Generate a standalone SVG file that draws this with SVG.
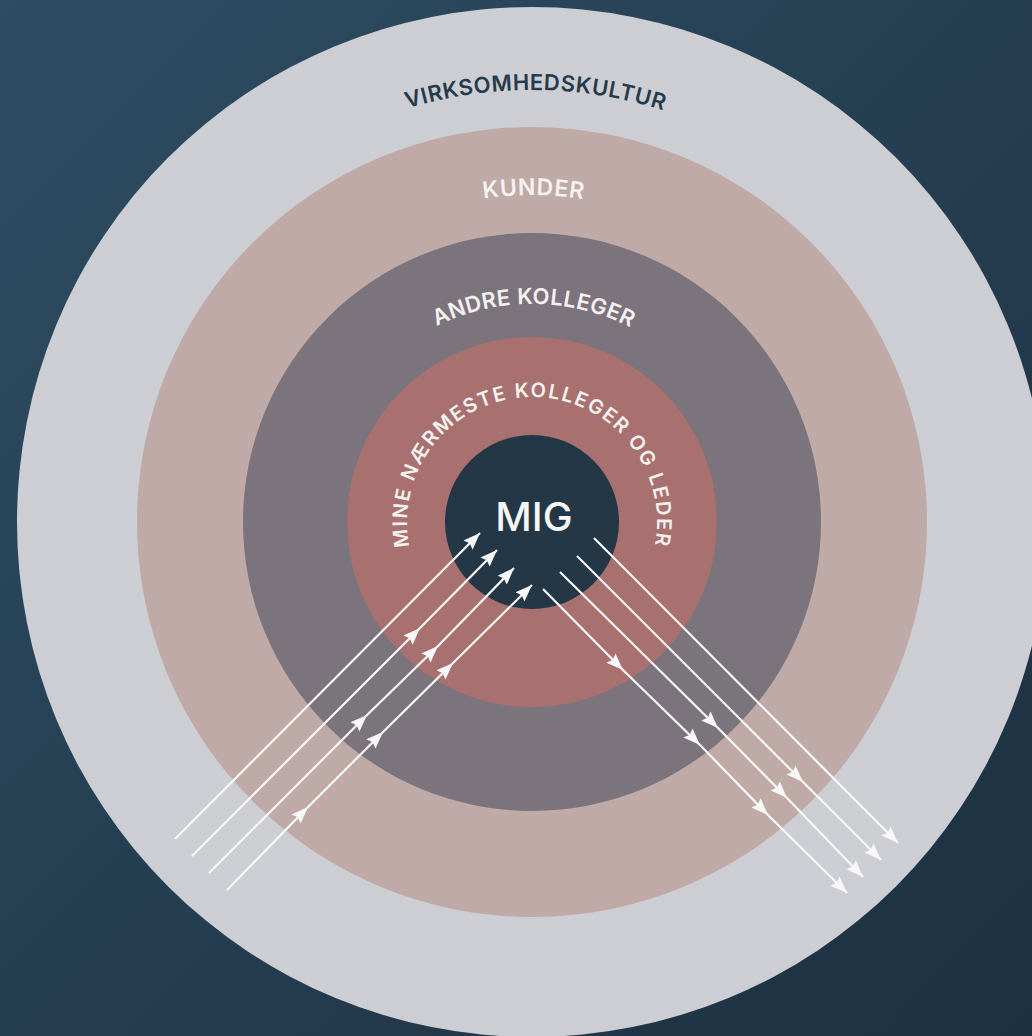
<svg xmlns="http://www.w3.org/2000/svg" width="1032" height="1036" viewBox="0 0 1032 1036">
  <defs>
    <linearGradient id="bg" x1="0" y1="0" x2="1" y2="1">
      <stop offset="0" stop-color="#2e4d63"/>
      <stop offset="1" stop-color="#1c3040"/>
    </linearGradient>
    <marker id="arr" viewBox="0 0 17 13" refX="17" refY="6.5" markerWidth="17" markerHeight="13" markerUnits="userSpaceOnUse" orient="auto">
      <path d="M0,0 L17,6.5 L0,13 L2.5,6.5 z" fill="#f8f8f8"/>
    </marker>
    <path id="p-virk" d="M106.56,447 A432,432 0 0 1 957.44,447"/>
    <path id="p-kund" d="M209.97,465.23 A327,327 0 0 1 854.03,465.23"/>
    <path id="p-andre" d="M317.31,484.15 A218,218 0 0 1 746.69,484.15"/>
    <path id="p-mine" d="M423.75,584.5 A125,125 0 1 1 640.25,584.5"/>
  </defs>
  <style>
    .lbl { font-family: Inter, "Liberation Sans", Arial, sans-serif; font-weight: 600; }
    .w { fill: #f6f1f1; }
    .conn { fill: none; stroke: #f8f8f8; stroke-width: 2.2; marker-mid: url(#arr); marker-end: url(#arr); }
  </style>
  <rect x="0" y="0" width="1032" height="1036" fill="url(#bg)"/>

  <g id="virksomhedskultur">
    <circle cx="532" cy="522" r="515" fill="#cdced3"/>
    <text class="lbl" font-size="22" fill="#253a4b" letter-spacing="0.6"><textPath href="#p-virk" startOffset="50.3%" text-anchor="middle">VIRKSOMHEDSKULTUR</textPath></text>
  </g>
  <g id="kunder">
    <circle cx="532" cy="522" r="395" fill="#bfaaa8"/>
    <text class="lbl w" font-size="23" letter-spacing="0.8"><textPath href="#p-kund" startOffset="50.2%" text-anchor="middle">KUNDER</textPath></text>
  </g>
  <g id="andre-kolleger">
    <circle cx="532" cy="522" r="289" fill="#7b747c"/>
    <text class="lbl w" font-size="22" letter-spacing="0.4"><textPath href="#p-andre" startOffset="50.3%" text-anchor="middle">ANDRE KOLLEGER</textPath></text>
  </g>
  <g id="mine-naermeste">
    <circle cx="532" cy="522" r="185" fill="#a87170"/>
    <text class="lbl w" font-size="20" letter-spacing="1.8"><textPath href="#p-mine" startOffset="50%" text-anchor="middle">MINE NÆRMESTE KOLLEGER OG LEDER</textPath></text>
  </g>
  <g id="mig">
    <circle cx="532" cy="522" r="87" fill="#243746"/>
    <text x="534" y="531" font-family="Inter, 'Liberation Sans', Arial, sans-serif" font-weight="500" font-size="40" fill="#f6f6f6" text-anchor="middle">MIG</text>
  </g>

  <g id="connectors">
    <polyline class="conn" points="175,839 480,533"/>
    <polyline class="conn" points="192,856 420,628 497,550"/>
    <polyline class="conn" points="209,873 367,715 438,646 514,568"/>
    <polyline class="conn" points="227,890 308,807 383,732 453,663 532,585"/>
    <polyline class="conn" points="594,538 898,843"/>
    <polyline class="conn" points="577,556 803,782 881,860"/>
    <polyline class="conn" points="560,572 718,728 787,798 863,877"/>
    <polyline class="conn" points="543,589 623,670 700,745 768,815 847,893"/>
  </g>
</svg>
